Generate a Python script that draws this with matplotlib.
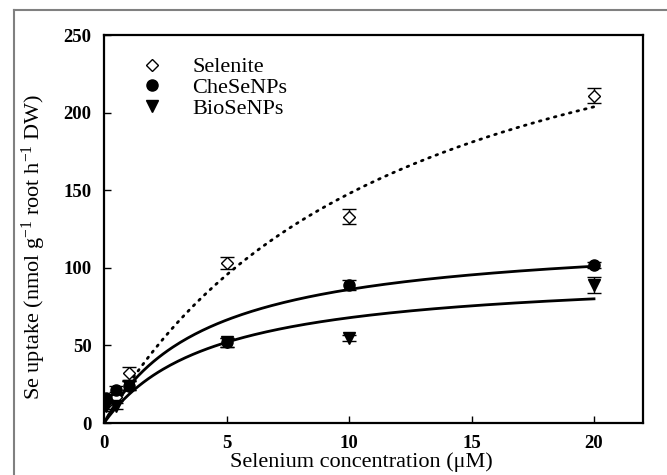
import numpy as np
import matplotlib
matplotlib.use("Agg")
import matplotlib.pyplot as plt
from matplotlib.lines import Line2D

# Data
conc = [0.1, 0.5, 1, 5, 10, 20]
selenite = [12, 17, 32, 103, 133, 211]
selenite_err = [3, 3, 4, 4, 5, 5]
chese = [16, 21, 24, 52, 89, 102]
chese_err = [3, 3, 3, 3, 3, 2]
biose = [11, 11, 24, 52, 55, 89]
biose_err = [3, 2, 3, 3, 2, 5]

# Michaelis-Menten fit parameters (Vmax, Km)
fit_selenite = (328.0, 12.2)
fit_chese = (122.3, 4.22)
fit_biose = (97.5, 4.375)

xticks = [0, 5, 10, 15, 20]
yticks = [0, 50, 100, 150, 200, 250]
series_names = ['Selenite', 'CheSeNPs', 'BioSeNPs']

plt.rcParams['font.family'] = ['Liberation Serif', 'DejaVu Serif']
plt.rcParams['mathtext.fontset'] = 'custom'
plt.rcParams['mathtext.rm'] = 'Liberation Serif'
plt.rcParams['mathtext.it'] = 'Liberation Serif:italic'
plt.rcParams['mathtext.bf'] = 'Liberation Serif:bold'

fig = plt.figure(figsize=(6.67, 4.75), dpi=100)
ax = fig.add_axes([104/667, 1-423/475, (643-104)/667, (423-35)/475])

# outer frame (partial)
fig.add_artist(Line2D([14/667, 14/667], [0, 1-10/475], transform=fig.transFigure, color='#808080', lw=1.5))
fig.add_artist(Line2D([14/667, 1], [1-10/475, 1-10/475], transform=fig.transFigure, color='#808080', lw=1.5))

xs = np.linspace(0, 20, 200)
def mm(p, x):
    return p[0]*x/(p[1]+x)

ax.plot(xs, mm(fit_selenite, xs), color='black', lw=2, linestyle=(0, (0.6, 2.2)), dash_capstyle='round')
ax.plot(xs, mm(fit_chese, xs), color='black', lw=2)
ax.plot(xs, mm(fit_biose, xs), color='black', lw=2)

ax.errorbar(conc, selenite, yerr=selenite_err, fmt='D', mfc='white', mec='black', mew=1.0,
            ms=6, ecolor='black', elinewidth=1, capsize=5, zorder=3)
ax.errorbar(conc, chese, yerr=chese_err, fmt='o', mfc='black', mec='black',
            ms=8, ecolor='black', elinewidth=1, capsize=5, zorder=3)
ax.errorbar(conc, biose, yerr=biose_err, fmt='v', mfc='black', mec='black',
            ms=8, ecolor='black', elinewidth=1, capsize=5, zorder=3)

ax.set_xlim(0, 22)
ax.set_ylim(0, 250)
ax.set_xticks(xticks)
ax.set_yticks(yticks)
ax.tick_params(direction='in', length=5, width=1, labelsize=13.5)
ax.tick_params(axis='x', pad=9)
ax.tick_params(axis='y', pad=9)
for lab in ax.get_xticklabels() + ax.get_yticklabels():
    lab.set_fontweight('bold')
for s in ax.spines.values():
    s.set_linewidth(1.6)

ax.set_xlabel('Selenium concentration (μM)', fontsize=16, labelpad=0)
ax.xaxis.set_label_coords(0.477, -0.075)
ax.set_ylabel('Se uptake (nmol g$^{-1}$ root h$^{-1}$ DW)', fontsize=16)
ax.yaxis.set_label_coords(-0.103, 0.454)

handles = [Line2D([], [], marker='D', ls='', mfc='white', mec='black', ms=6),
           Line2D([], [], marker='o', ls='', mfc='black', mec='black', ms=8),
           Line2D([], [], marker='v', ls='', mfc='black', mec='black', ms=8)]
ax.legend(handles, series_names, loc='upper left', bbox_to_anchor=(0.011, 0.995),
          frameon=False, handletextpad=0.8, labelspacing=0.0, prop={'size': 16})

fig.savefig('out.png', dpi=100)
